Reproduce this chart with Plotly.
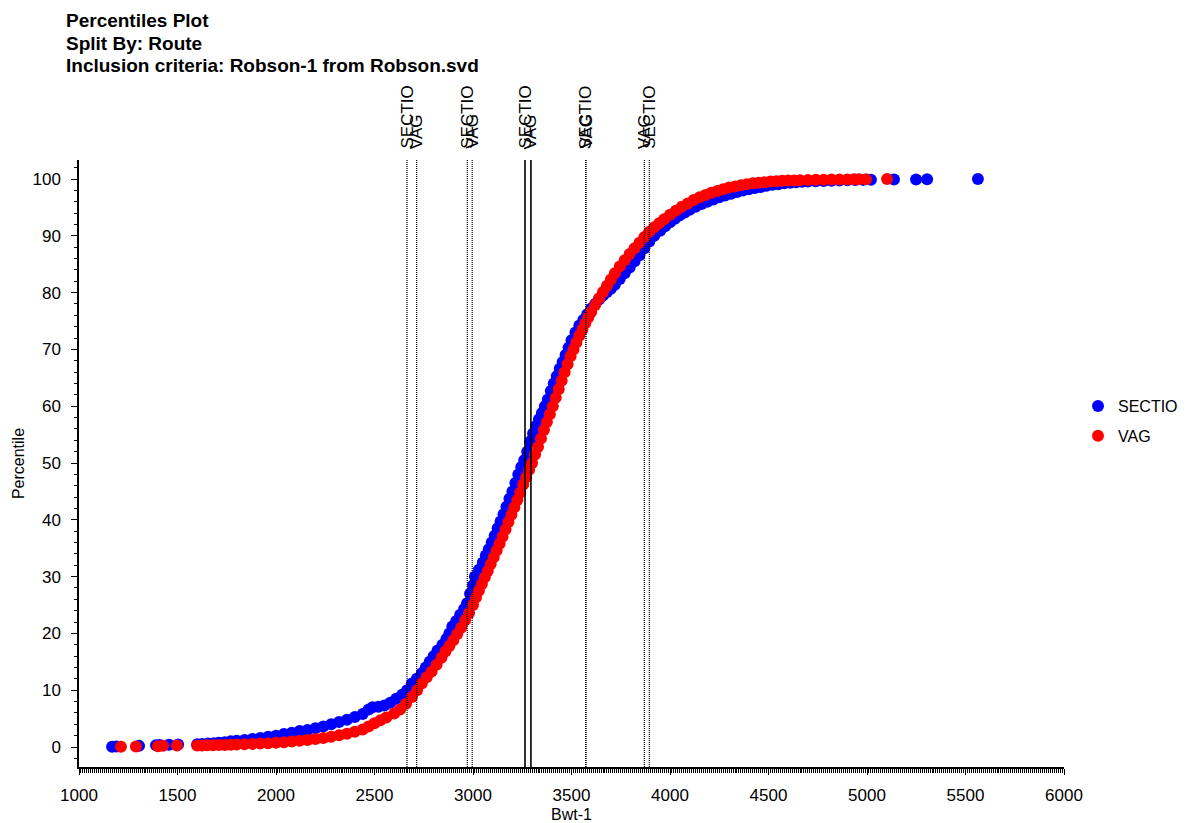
import plotly.graph_objects as go

# ---------------- data ----------------
sectio_bwt = [1168, 1190, 1305, 1391, 1410, 1457, 1503, 1600, 1625, 1655, 1685, 1710, 1740, 1770, 1800,
              1840, 1880, 1920, 1960, 2000, 2040, 2080, 2120, 2160, 2200, 2240, 2280, 2320, 2360, 2400,
              2440, 2470, 2490, 2520, 2550, 2580, 2610, 2640, 2665, 2690, 2715, 2740, 2760, 2780, 2800,
              2820, 2845, 2865, 2880, 2895, 2915, 2935, 2955, 2970, 2985, 3000, 3010, 3030, 3050, 3065,
              3080, 3095, 3110, 3125, 3140, 3155, 3170, 3185, 3200, 3215, 3230, 3245, 3260, 3275, 3290,
              3305, 3320, 3335, 3350, 3365, 3380, 3395, 3410, 3425, 3440, 3455, 3470, 3485, 3500, 3520,
              3540, 3560, 3580, 3600, 3620, 3640, 3660, 3680, 3700, 3720, 3745, 3770, 3795, 3820, 3845,
              3870, 3895, 3920, 3950, 3975, 4000, 4025, 4050, 4075, 4100, 4130, 4160, 4190, 4220, 4250,
              4280, 4310, 4340, 4370, 4400, 4430, 4460, 4490, 4520, 4550, 4580, 4610, 4640, 4670, 4700,
              4740, 4780, 4820, 4860, 4900, 4940, 4980, 5020, 5137, 5249, 5305, 5563]
sectio_pct = [0.05, 0.1, 0.2, 0.3, 0.35, 0.4, 0.45, 0.5, 0.55, 0.6, 0.65, 0.75, 0.85, 1.0, 1.1,
              1.25, 1.4, 1.6, 1.8, 2.0, 2.3, 2.5, 2.8, 3.0, 3.3, 3.6, 4.0, 4.4, 4.8, 5.3,
              5.8, 6.6, 7.0, 7.1, 7.3, 7.8, 8.5, 9.2, 10.0, 11.2, 12.0, 13.0, 14.0, 15.0, 16.0,
              17.0, 18.0, 19.0, 20.0, 21.2, 22.2, 23.3, 24.3, 25.3, 27.0, 28.5, 30.0, 31.2, 32.5, 33.7,
              34.8, 36.0, 37.2, 38.5, 39.7, 41.0, 42.3, 43.7, 45.0, 46.5, 48.0, 49.3, 50.5, 52.0, 53.8,
              55.2, 56.5, 57.7, 58.8, 60.0, 61.2, 62.7, 64.0, 65.3, 66.6, 67.8, 69.0, 70.3, 71.6, 73.0,
              74.2, 75.2, 76.2, 77.2, 78.0, 78.8, 79.5, 80.1, 80.7, 81.4, 82.4, 83.4, 84.4, 85.5, 86.6,
              87.8, 89.0, 90.0, 90.9, 91.7, 92.4, 93.0, 93.6, 94.1, 94.6, 95.1, 95.6, 96.0, 96.4, 96.8,
              97.1, 97.4, 97.7, 98.0, 98.2, 98.4, 98.6, 98.8, 99.0, 99.1, 99.25, 99.35, 99.45, 99.5, 99.55,
              99.6, 99.65, 99.7, 99.75, 99.8, 99.82, 99.85, 99.87, 99.9, 99.92, 99.95, 100.0]

vag_bwt = [1213, 1289, 1401, 1426, 1497, 1600, 1625, 1650, 1680, 1710, 1740, 1770, 1800, 1840, 1880,
           1920, 1960, 2000, 2040, 2080, 2120, 2160, 2200, 2240, 2280, 2320, 2360, 2400, 2440, 2470,
           2500, 2530, 2560, 2600, 2630, 2660, 2690, 2716, 2740, 2765, 2790, 2815, 2840, 2860, 2880,
           2900, 2920, 2940, 2960, 2980, 3000, 3015, 3030, 3045, 3060, 3075, 3090, 3105, 3120, 3135,
           3150, 3165, 3180, 3195, 3210, 3225, 3240, 3255, 3270, 3285, 3300, 3315, 3330, 3345, 3360,
           3375, 3390, 3405, 3420, 3435, 3450, 3465, 3480, 3495, 3510, 3525, 3540, 3555, 3570, 3585,
           3600, 3620, 3640, 3660, 3680, 3700, 3720, 3745, 3770, 3795, 3820, 3845, 3870, 3895, 3920,
           3945, 3970, 4000, 4030, 4060, 4090, 4120, 4150, 4180, 4210, 4240, 4270, 4300, 4330, 4360,
           4390, 4420, 4450, 4480, 4510, 4540, 4570, 4600, 4630, 4660, 4700, 4740, 4780, 4820, 4860,
           4900, 4934, 4959, 4995, 5102]
vag_pct = [0.05, 0.1, 0.15, 0.2, 0.25, 0.25, 0.25, 0.3, 0.3, 0.35, 0.35, 0.4, 0.45, 0.5, 0.55,
           0.6, 0.65, 0.75, 0.85, 0.95, 1.1, 1.25, 1.4, 1.6, 1.8, 2.05, 2.35, 2.7, 3.1, 3.6,
           4.2, 4.7, 5.2, 5.9, 6.6, 7.6, 8.8, 10.0, 11.2, 12.3, 13.3, 14.5, 15.7, 16.8, 17.8,
           18.8, 19.9, 21.0, 22.3, 23.6, 25.0, 26.3, 27.5, 28.7, 29.9, 31.0, 32.2, 33.4, 34.6, 35.8,
           37.0, 38.3, 39.6, 40.9, 42.2, 43.5, 44.8, 46.2, 47.5, 48.8, 50.0, 51.5, 52.8, 54.3, 55.8,
           57.2, 58.6, 60.0, 61.5, 63.0, 64.5, 66.0, 67.4, 68.8, 70.0, 71.2, 72.4, 73.5, 74.6, 75.6,
           76.6, 77.8, 79.0, 80.1, 81.2, 82.3, 83.4, 84.6, 85.7, 86.8, 87.8, 88.8, 89.8, 90.7, 91.5,
           92.2, 92.9, 93.7, 94.4, 95.1, 95.7, 96.3, 96.8, 97.2, 97.6, 97.9, 98.2, 98.5, 98.7, 98.9,
           99.1, 99.25, 99.35, 99.45, 99.55, 99.62, 99.68, 99.72, 99.76, 99.8, 99.83, 99.86, 99.88, 99.9, 99.92,
           99.93, 99.94, 99.96, 99.98, 100.0]

pct_levels = [10, 25, 50, 75, 90]
sectio_pctl = [2665, 2971, 3264, 3572, 3895]
vag_pctl = [2714, 2996, 3294, 3574, 3870]

series_names = ["SECTIO", "VAG"]
title_lines = ["Percentiles Plot", "Split By: Route", "Inclusion criteria: Robson-1 from Robson.svd"]
x_ticks = [1000, 1500, 2000, 2500, 3000, 3500, 4000, 4500, 5000, 5500, 6000]
y_ticks = [0, 10, 20, 30, 40, 50, 60, 70, 80, 90, 100]
x_title = "Bwt-1"
y_title = "Percentile"

# ---------------- figure ----------------
FONT = "Liberation Sans, Arial, Helvetica, sans-serif"
BLUE = "#0000ff"
RED = "#ff0000"

fig = go.Figure()
fig.add_trace(go.Scatter(x=sectio_bwt, y=sectio_pct, mode="markers", name=series_names[0],
                         legendgroup="a",
                         marker=dict(color=BLUE, size=12, line=dict(width=0)), hoverinfo="x+y"))
fig.add_trace(go.Scatter(x=vag_bwt, y=vag_pct, mode="markers", name=series_names[1],
                         legendgroup="b",
                         marker=dict(color=RED, size=12, line=dict(width=0)), hoverinfo="x+y"))

for pctls, label in ((sectio_pctl, series_names[0]), (vag_pctl, series_names[1])):
    for lvl, xv in zip(pct_levels, pctls):
        median = (lvl == 50)
        fig.add_shape(type="line", xref="x", yref="paper", x0=xv, x1=xv, y0=0, y1=1,
                      line=dict(color="black", width=1.6 if median else 1.2,
                                dash="solid" if median else "1px,1px"),
                      layer="above")
        fig.add_annotation(x=xv, xref="x", y=1, yref="paper", yshift=9,
                           text=label, textangle=-90, showarrow=False,
                           xanchor="center", yanchor="bottom",
                           font=dict(family=FONT, size=17, color="black"))

title_y_px = [20.5, 43.5, 66]
plot_top, plot_h = 160, 607
plot_left, plot_w = 79, 985
for txt, ypx in zip(title_lines, title_y_px):
    fig.add_annotation(x=(64 - plot_left) / plot_w, xref="paper",
                       y=1 + (plot_top - ypx) / plot_h, yref="paper",
                       text="<b>" + txt + "</b>", showarrow=False,
                       xanchor="left", yanchor="middle",
                       font=dict(family=FONT, size=19, color="black"))

xr = [x_ticks[0], x_ticks[-1]]
yr = [-3.52, 103.35]
axis_common = dict(showgrid=False, zeroline=False, showline=True, linecolor="black",
                   tickcolor="black", automargin=False)

fig.update_layout(
    width=1188, height=823, autosize=False,
    margin=dict(l=plot_left, r=1188 - plot_left - plot_w, t=plot_top, b=823 - plot_top - plot_h,
                pad=0, autoexpand=False),
    paper_bgcolor="white", plot_bgcolor="white",
    font=dict(family=FONT, size=17, color="black"),
    showlegend=True,
    legend=dict(x=1.0142, xanchor="left", y=0.6227, yanchor="top",
                font=dict(family=FONT, size=16, color="black"),
                tracegroupgap=6, bgcolor="rgba(0,0,0,0)", borderwidth=0),
    xaxis=dict(range=xr, tickmode="linear", tick0=x_ticks[0], dtick=x_ticks[1] - x_ticks[0],
               ticks="outside", ticklen=6, tickwidth=1, linewidth=1.5,
               ticklabelstandoff=6,
               minor=dict(dtick=10, ticks="outside", ticklen=4, tickwidth=1, tickcolor="black",
                          showgrid=False),
               title=dict(text=x_title, font=dict(family=FONT, size=16), standoff=8),
               **axis_common),
    yaxis=dict(range=yr, tickmode="linear", tick0=y_ticks[0], dtick=y_ticks[1] - y_ticks[0],
               ticks="outside", ticklen=6, tickwidth=1, linewidth=1.5,
               ticklabelstandoff=7,
               minor=dict(dtick=2, ticks="outside", ticklen=3, tickwidth=1, tickcolor="black",
                          showgrid=False),
               title=dict(text=y_title, font=dict(family=FONT, size=16), standoff=4),
               **axis_common),
    xaxis2=dict(range=xr, overlaying="x", side="top", anchor="y", tickmode="linear",
                tick0=x_ticks[0], dtick=x_ticks[1] - x_ticks[0],
                ticks="outside", ticklen=4, tickwidth=1, linewidth=1.5, showticklabels=False,
                minor=dict(dtick=10, ticks="inside", ticklen=3, tickwidth=1, tickcolor="black",
                           showgrid=False),
                **axis_common),
    yaxis2=dict(range=yr, overlaying="y", side="right", anchor="x", tickmode="linear",
                tick0=y_ticks[0], dtick=y_ticks[1] - y_ticks[0],
                ticks="inside", ticklen=4, tickwidth=1, linewidth=1.5, showticklabels=False,
                minor=dict(dtick=2, ticks="inside", ticklen=3, tickwidth=1, tickcolor="black",
                           showgrid=False),
                **axis_common),
)

fig.write_html("out.html")
